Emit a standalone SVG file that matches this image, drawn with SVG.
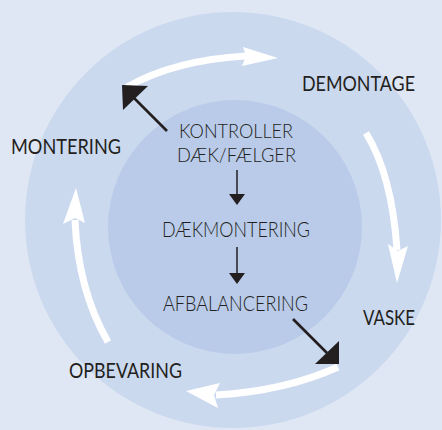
<svg xmlns="http://www.w3.org/2000/svg" width="442" height="430" viewBox="0 0 442 430">
<style>
.outer{font-family:Lato,"Open Sans","Liberation Sans",sans-serif;font-size:22px;font-weight:400;fill:#231f20}
.inner{font-family:Lato,"Open Sans","Liberation Sans",sans-serif;font-size:22px;font-weight:300;fill:#231f20}
.pair{font-size:20.5px}
.band{fill:none;stroke:#ffffff;stroke-width:7}
.head{fill:#ffffff}
.blk{stroke:#231f20;stroke-width:2.6;fill:none}
.thin{stroke:#231f20;stroke-width:1.5;fill:none}
.tri{fill:#231f20}
</style>
<rect x="0" y="0" width="442" height="430" fill="#dfe7f4"/>
<circle cx="233" cy="220" r="208" fill="#cbd9ef"/>
<circle cx="235" cy="227" r="127" fill="#b9cbe9"/>
<g id="connectors">
  <path class="band" d="M127,87 Q175,60 246,56"/>
  <polygon class="head" points="243,47 278,58 242,66 246,56"/>
  <path class="band" d="M366,133 Q392,175 397,250"/>
  <polygon class="head" points="388,244 398,251 408,246 397,283"/>
  <path class="band" d="M338,367 Q285,391 216,395"/>
  <polygon class="head" points="186,391 220,383 214,395 218,408"/>
  <path class="band" d="M108,342 Q78,290 75,220"/>
  <polygon class="head" points="76,188 85,223 75,218 63,224"/>
  <line class="blk" x1="167" y1="131" x2="134" y2="98"/>
  <polygon class="tri" points="122,85 148,86 123,110"/>
  <line class="blk" x1="293" y1="319" x2="327" y2="353"/>
  <polygon class="tri" points="339,341 339,364 315,364"/>
  <line class="thin" x1="237" y1="170" x2="237" y2="196"/>
  <polygon class="tri" points="229,194 245,194 237,205"/>
  <line class="thin" x1="237" y1="247" x2="237" y2="275"/>
  <polygon class="tri" points="229,273 245,273 237,284"/>
</g>
<g id="demontage"><text class="outer" x="302" y="91" textLength="113" lengthAdjust="spacingAndGlyphs">DEMONTAGE</text></g>
<g id="vaske"><text class="outer" x="363" y="325" textLength="52" lengthAdjust="spacingAndGlyphs">VASKE</text></g>
<g id="opbevaring"><text class="outer" x="69" y="378" textLength="113" lengthAdjust="spacingAndGlyphs">OPBEVARING</text></g>
<g id="montering"><text class="outer" x="11" y="154" textLength="110" lengthAdjust="spacingAndGlyphs">MONTERING</text></g>
<g id="kontroller">
  <text class="inner pair" x="179" y="138" textLength="114" lengthAdjust="spacingAndGlyphs">KONTROLLER</text>
  <text class="inner pair" x="177" y="162" textLength="119" lengthAdjust="spacingAndGlyphs">DÆK/FÆLGER</text>
</g>
<g id="daekmontering"><text class="inner" x="162" y="237" textLength="148" lengthAdjust="spacingAndGlyphs">DÆKMONTERING</text></g>
<g id="afbalancering"><text class="inner" x="163" y="311" textLength="145" lengthAdjust="spacingAndGlyphs">AFBALANCERING</text></g>
</svg>
